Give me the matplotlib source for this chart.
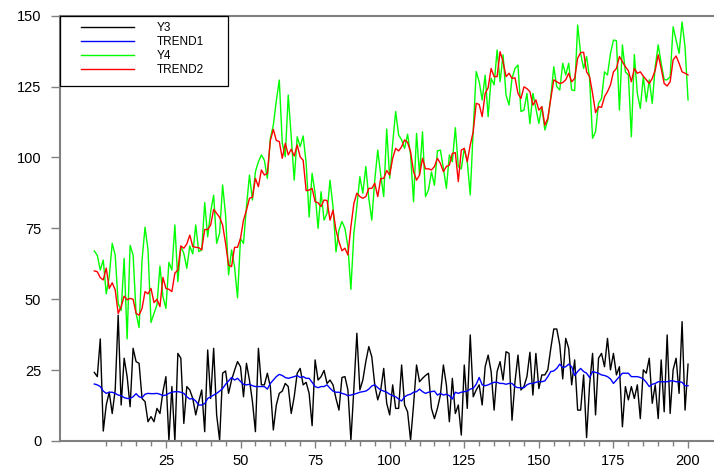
import numpy as np
import matplotlib
matplotlib.use("Agg")
import matplotlib.pyplot as plt
from matplotlib.patches import Rectangle

plt.rcParams['font.family'] = ['Liberation Sans', 'DejaVu Sans']

# ------------------------------------------------------------
# data (x = 1..200)
# ------------------------------------------------------------
obs = np.arange(1, 201)

y3 = [
    24.2, 22.7, 36, 3.5, 12.7, 17.2, 9.7, 18, 44.4, 12.7, 29.2, 22.7, 12.1, 32.7, 28, 27.4, 15, 13.9, 6.8, 8.6,
    6.8, 11.5, 9.7, 17.4, 22.7, 0.3, 19.2, 0, 30.9, 29.2, 6.2, 19.2, 18, 15, 9.2, 13.9, 18, 3.3, 32.1, 15,
    32.7, 9.2, 0.3, 23.9, 24.7, 16.8, 21.5, 24.9, 28, 26.2,
    15.6, 27.4, 21.5, 13.9, 3.3, 32.7, 19.8, 19.8, 23.9, 19.2, 3.9, 12.7, 16.8, 17.6, 20.3, 19.2, 9.7, 15.6, 23.9, 25.6,
    19.8, 20.7, 16.8, 5.4, 28.6, 21.5, 22.7, 24.9, 20.3, 21.5, 19.8, 15, 10.9, 22.4, 22.7, 18, 0.3, 18.5, 38, 18,
    21.5, 28, 33.3, 29.7, 19.8, 14.5, 18, 25.6, 13.3, 9.2,
    19.8, 11.5, 11.5, 26.8, 12.7, 10.3, 0.3, 12.7, 26.8, 20.9, 22.1, 23.1, 23.9, 11.5, 7.9, 11.5, 16.2, 26.8, 19.8, 6.8,
    22.1, 9.7, 12.7, 2.1, 26.8, 11.5, 37.4, 15.6, 18, 19.8, 12.7, 26.2, 30.3, 24.5, 10.9, 24.5, 28, 21.5, 31.5, 30.9,
    7.3, 20.9, 30.3, 18, 19.2, 22.7, 31.3, 16.2, 30.9, 18.5,
    23.3, 23.3, 25.1, 32.7, 39.5, 39.5, 33.9, 21.9, 36.2, 32.7, 19.8, 28.6, 10.9, 10.9, 23.3, 1.2, 19.8, 30.9, 9.2, 29.2,
    30.9, 26.2, 36.2, 25.1, 30.9, 23.3, 26.2, 5, 19.2, 14.5, 19.2, 15, 19.8, 7.9, 25.1, 23.9, 29.2, 13.3, 19.8, 7.9,
    28.6, 10.3, 37.4, 9.7, 25.1, 29.2, 16.8, 42.1, 10.9, 27.1,
]

trend1 = [
    20.1, 19.8, 19.2, 17.6, 16.8, 17.2, 17.2, 16.8, 16.2, 16, 15.3, 15, 15, 15.6, 16.7, 15.6, 15.3, 16.5, 16.8, 16.7,
    16.7, 16.8, 16.5, 16, 16.2, 16.8, 17.2, 17.4, 17.4, 17.2, 16.8, 15.6, 14.8, 15, 14.1, 12.7, 12.7, 13.2, 15, 15.6,
    16.2, 16.8, 17.6, 18.5, 20, 21.2, 22.4, 21.5, 22.1, 21,
    20, 19.8, 20, 19.5, 19.2, 19.2, 19.2, 19.2, 18.3, 20.3, 21.5, 22.7, 23.5, 23.1, 22.4, 22.1, 22.4, 22.7, 23.1, 22.4,
    22.7, 22.1, 22.1, 20.7, 19.2, 18.8, 19.2, 19.2, 19.8, 18.6, 17.6, 17.2, 17.2, 16.8, 16.5, 16, 16.2, 16.5, 16.8, 17.2,
    17.4, 17.6, 18.3, 19.4, 19.8, 18.8, 18, 17.6, 17.2, 16.5,
    16, 15.6, 14.8, 14.1, 15.6, 16.2, 16.5, 17.2, 17.4, 18.3, 17.4, 16.8, 17.2, 17.4, 17.6, 16.2, 16.8, 16.2, 16.5, 16,
    14.8, 17.2, 16.8, 17.2, 17.4, 17.6, 18.3, 18.6, 20, 22.4, 19.8, 19.5, 19.8, 20.3, 20.7, 20.7, 20.3, 20.3, 20, 20.3,
    20.3, 19.2, 18.8, 18.8, 18.8, 19.8, 20.3, 20.3, 20.7, 21,
    20.9, 21.2, 22.7, 24.5, 24.7, 25.6, 27.1, 25.9, 26.2, 27.1, 26.2, 23.1, 24.5, 25.6, 24.5, 23.9, 22.4, 24.5, 24.2, 23.9,
    23.3, 23.1, 22.7, 21.9, 20.3, 21.5, 22.7, 23.9, 23.9, 23.9, 22.7, 22.7, 22.7, 22.4, 21.9, 20.7, 19.2, 20, 20.3, 20.9,
    20.9, 20.9, 20.9, 21.2, 21.2, 20.9, 20.9, 20.7, 19.5, 19.5,
]

y4 = [
    67, 65.5, 60.3, 63.8, 51.9, 58, 69.7, 65.6, 48.5, 46, 64.4, 36, 69, 65.6, 45, 40, 63.8, 75.4, 67.4, 41.8,
    45, 48, 61.7, 50.9, 46.8, 63, 60.3, 76.2, 56.2, 68.6, 66.2, 60.9, 68.8, 66, 76.2, 66.8, 67.4, 84.1, 72, 80.9,
    86.7, 69.7, 73.3, 90.3, 79.7, 58.6, 67.4, 61.5, 50.5, 71.4,
    69.7, 82.7, 93.8, 85, 95, 98.5, 100.9, 99, 92.6, 106.7, 111.4, 120, 127.3, 105, 100.3, 122, 107.3, 92, 107.3, 103.8,
    107.6, 98, 79, 94.4, 87.4, 75, 87.9, 77.9, 80.3, 92, 82.7, 66.7, 74.4, 77.4, 75, 68.5, 53.5, 73.3, 82.7, 93.2,
    87.4, 96.8, 85.6, 77.9, 92, 102.6, 93.8, 86.2, 110, 92.6,
    105, 116.2, 107.9, 106.2, 103.2, 108.2, 100.9, 84.4, 108.5, 93.8, 109, 86.2, 88.5, 94.9, 90.2, 102.3, 102.6, 96.2, 89.1, 100.9,
    98.5, 110.5, 96.8, 96, 103.2, 98.5, 86.8, 109.7, 130.3, 126.7, 120.3, 129, 114.4, 127.9, 125.6, 137.9, 126.7, 136.2, 122, 118.5,
    127.9, 131.4, 132.6, 116.2, 116.7, 122.6, 111.9, 122.6, 117.3, 112,
    117.9, 109.7, 113.2, 121.4, 132, 125, 123.8, 133.2, 129.1, 133.2, 123.8, 123.6, 146.7, 136.7, 131.4, 135.6, 127.9, 106.8, 109.1, 119.1,
    120.8, 130.2, 129.1, 136.7, 141.4, 141.2, 116.7, 139.7, 130.2, 129.1, 107.3, 136.3, 122.6, 117.3, 128.5, 119.7, 127.4, 119.1, 132, 139.7,
    133.2, 127.4, 127.4, 128.5, 146.1, 141.4, 136.7, 147.8, 138.9, 120.3,
]

trend2 = [
    60, 59.7, 57.6, 56.8, 61, 53.8, 55.8, 53.3, 45, 47.4, 51.1, 49.8, 50.3, 50, 45, 44.4, 46.8, 52.7, 51.9, 53.8,
    48.8, 50, 47.4, 57.7, 53.8, 53.5, 52.7, 59.2, 60.3, 68.8, 68, 69.5, 72.6, 68.6, 68.3, 68.2, 67.4, 74.6, 74.6, 76.2,
    81.7, 80.3, 78.9, 76.2, 69.7, 62, 61.5, 68.3, 68.3, 71.5,
    77.9, 81.4, 85.6, 86, 92.6, 89.7, 95.6, 93.8, 94.4, 106, 109.9, 106, 105.6, 99.7, 105, 100.9, 102.9, 100.5, 104.4, 100.2,
    99, 88.3, 88.5, 89.1, 84.4, 84, 82.7, 85, 84.8, 77.9, 81.4, 74.4, 70.3, 67.1, 68, 65.6, 75.6, 83.8, 87.4, 86.2,
    85.6, 86.2, 89.1, 89.1, 90.9, 86.2, 92.6, 92.6, 95.4, 93.8,
    99.7, 103.2, 102.3, 103.8, 106.2, 105.3, 102, 95, 92, 93.8, 99.7, 96, 96, 95.6, 96.8, 99.7, 97.9, 95, 96.8, 97.3,
    101.4, 101.7, 91.5, 102.6, 103.2, 98.5, 104.4, 109.1, 119.1, 118.7, 114.4, 122.6, 124.6, 131.4, 128.5, 128.5, 137.3, 133.8, 128.5, 129.7,
    127.9, 128.1, 122.6, 120.8, 124.9, 124.3, 123.2, 118.5, 120.3, 116.7,
    117.9, 111.4, 113.8, 120.8, 127.4, 126.7, 126.1, 126.4, 127.4, 129.7, 126.7, 127.9, 135, 137, 137.1, 130.2, 128.5, 122.6, 115.8, 117.9,
    117.7, 121.4, 123.2, 125.6, 130.2, 131.4, 135.6, 133.8, 132, 130.6, 126.7, 131.4, 129.7, 130.2, 128.7, 127.4, 126.1, 127.9, 130.8, 136.2,
    131.4, 126.1, 125.2, 126.7, 134.4, 135.8, 133.2, 130.2, 129.7, 129.1,
]

series = [
    ('Y3', y3, '#000000'),
    ('TREND1', trend1, '#0000ff'),
    ('Y4', y4, '#00ff00'),
    ('TREND2', trend2, '#ff0000'),
]

# ------------------------------------------------------------
# figure
# ------------------------------------------------------------
fig = plt.figure(figsize=(7.14, 4.72), dpi=100)
ax = fig.add_axes([60 / 714, 31 / 472, 654 / 714, 425.3 / 472])

for name, vals, col in series:
    ax.plot(obs, vals, color=col, lw=1.0, label=name)

ax.set_xlim(-10.5, 208.7)
ax.set_ylim(0, 150)

spine_col = '#808080'
for side in ['left', 'bottom', 'top']:
    ax.spines[side].set_color(spine_col)
    ax.spines[side].set_linewidth(1.5)
ax.spines['right'].set_visible(False)

ax.set_xticks(np.arange(25, 201, 25))
ax.set_xticks(np.arange(5, 201, 5), minor=True)
ax.set_yticks(np.arange(0, 151, 25))
ax.tick_params(axis='x', which='major', length=5, width=1, color=spine_col, pad=4.5, labelsize=10.5, direction='out')
ax.tick_params(axis='x', which='minor', length=3.4, width=1, color=spine_col, direction='out')
ax.tick_params(axis='y', which='major', length=6.5, width=1, color=spine_col, pad=7, labelsize=10.5, direction='out')
ax.tick_params(top=False, right=False, which='both')

# legend: frame drawn as its own box hugging the top-left corner
ax.add_patch(Rectangle((0, 1 - 70.3 / 425.3), 168 / 654, 70.3 / 425.3, transform=ax.transAxes,
                       fill=False, edgecolor='black', lw=0.9, zorder=5, clip_on=False))
leg = ax.legend(loc='upper left', bbox_to_anchor=(21 / 654, 1 - 6.8 / 425.3), frameon=False,
                fontsize=8.5, handlelength=4.5, handletextpad=1.9, labelspacing=0.15,
                borderpad=0, borderaxespad=0)
for ln in leg.get_lines():
    ln.set_linewidth(1.0)

fig.savefig('out.png', dpi=100)
